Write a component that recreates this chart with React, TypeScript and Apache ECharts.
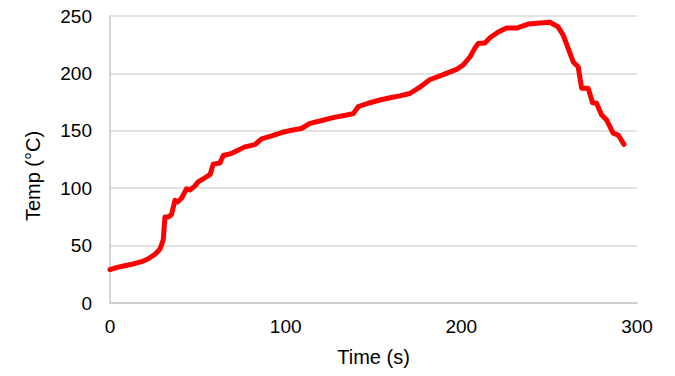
import React, { useEffect, useRef } from "react";
import * as echarts from "echarts";

const timeS = [
  0, 4, 8.5, 13, 18, 21.8, 25.6, 28.5, 30.3, 31.3, 33.2, 35, 37, 38.5, 40.8, 43.6, 45.5, 48.4, 50.3, 53,
  57, 58.8, 62.6, 64.5, 69.3, 72, 76.8, 82.5, 86.3, 92, 97.7, 103.4, 109, 113.8, 119.5, 127, 134, 138.5,
  141.3, 147, 153.7, 159.4, 165, 170.7, 176.4, 182, 189.7, 197.3, 201, 205, 207.7, 209.6, 213.4, 216.3,
  221, 225.8, 231.5, 238, 244.7, 250.4, 255, 258, 260.8, 263.7, 266.5, 268.5, 272.2, 274.7, 277, 279.8,
  282.7, 286.4, 289.3, 292.6,
];
const tempC = [
  29, 31, 32.5, 34, 36, 38.5, 42.5, 47, 55, 75, 75, 77, 89.5, 88, 91.5, 99.5, 98.5, 102, 105.7, 108,
  112, 121, 122, 128.5, 130.4, 132.4, 136, 138, 143, 145.5, 148.5, 150.5, 152, 156.5, 158.5, 161.5, 163.5, 165,
  171, 174, 176.8, 178.8, 180.4, 182.5, 188, 194.5, 199, 203.5, 207.3, 214.5, 222, 226, 226.5, 231,
  236, 239.5, 239.5, 243, 244, 244.5, 240.7, 233.4, 221.8, 210, 205.8, 187, 187, 174.5, 174, 164,
  159.4, 148, 146.3, 138.2,
];
const xTicks = [0, 100, 200, 300];
const yTicks = [0, 50, 100, 150, 200, 250];

export default function App() {
  const ref = useRef<HTMLDivElement>(null);
  useEffect(() => {
    if (!ref.current) return;
    const chart = echarts.init(ref.current, undefined, { renderer: "svg" });
    const font = "'Liberation Sans', Arial, sans-serif";
    chart.setOption({
      animation: false,
      backgroundColor: "#ffffff",
      grid: { left: 110, right: 38, top: 16, bottom: 73, containLabel: false },
      xAxis: {
        type: "value",
        min: xTicks[0],
        max: xTicks[xTicks.length - 1],
        interval: 100,
        name: "Time (s)",
        nameLocation: "middle",
        nameGap: 44,
        nameTextStyle: { color: "#000", fontSize: 20, fontFamily: font },
        axisLine: { show: true, lineStyle: { color: "#c8c8c8", width: 1.5 } },
        axisTick: { show: false },
        splitLine: { show: false },
        axisLabel: { color: "#000", fontSize: 19, fontFamily: font, margin: 14 },
      },
      yAxis: {
        type: "value",
        min: yTicks[0],
        max: yTicks[yTicks.length - 1],
        interval: 50,
        axisLine: { show: true, lineStyle: { color: "#c8c8c8", width: 1.5 } },
        axisTick: { show: false },
        splitLine: { show: true, lineStyle: { color: "#d9d9d9", width: 1.5 } },
        axisLabel: { color: "#000", fontSize: 19, fontFamily: font, margin: 18 },
      },
      graphic: [
        {
          type: "text",
          x: 33,
          y: 176,
          rotation: Math.PI / 2,
          style: {
            text: "Temp (°C)",
            fill: "#000",
            font: `20px ${font}`,
            textAlign: "center",
            textVerticalAlign: "middle",
          },
        },
      ],
      series: [
        {
          type: "line",
          data: timeS.map((t, i) => [t, tempC[i]]),
          showSymbol: false,
          smooth: false,
          lineStyle: { color: "#ff0000", width: 5, cap: "round", join: "round" },
          itemStyle: { color: "#ff0000" },
        },
      ],
    });
    return () => chart.dispose();
  }, []);
  return (
    <div
      ref={ref}
      style={{ position: "fixed", left: 0, top: 0, width: 675, height: 376 }}
    />
  );
}
